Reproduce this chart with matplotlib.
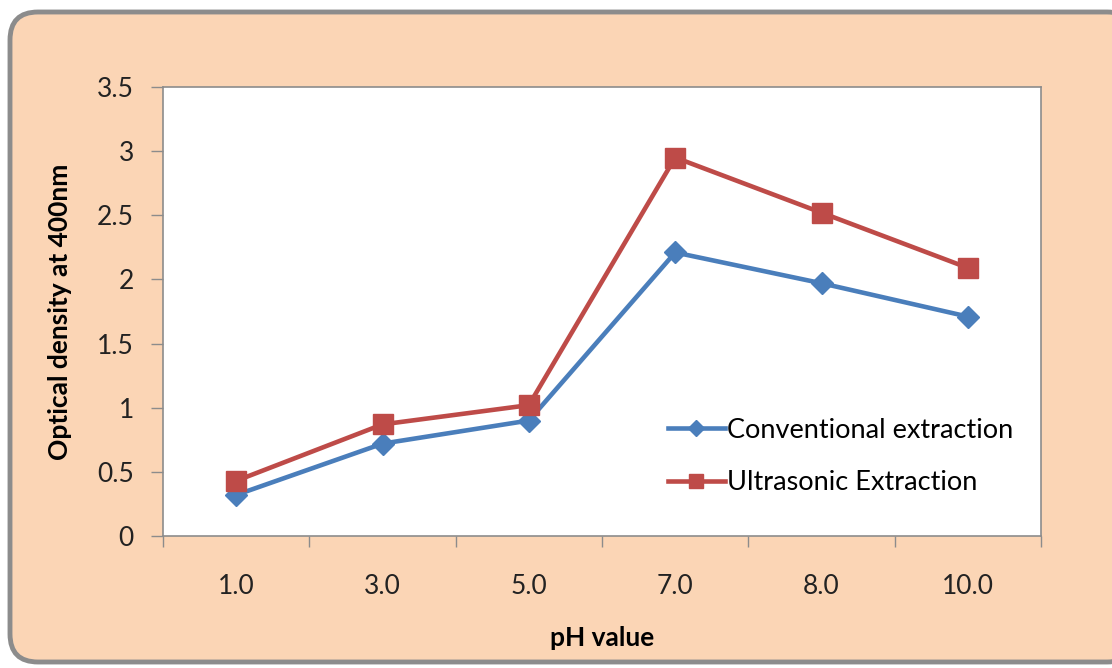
import matplotlib.pyplot as plt
from matplotlib.patches import FancyBboxPatch
from matplotlib.transforms import IdentityTransform

plt.rcParams['font.family'] = ['Lato', 'DejaVu Sans']

# pH categories and optical density readings
ph_labels = ['1.0', '3.0', '5.0', '7.0', '8.0', '10.0']
conventional = [0.32, 0.72, 0.90, 2.21, 1.97, 1.71]
ultrasonic = [0.43, 0.87, 1.02, 2.95, 2.52, 2.09]

fig = plt.figure(figsize=(11.12, 6.68), dpi=100)
fig.patch.set_facecolor('white')

# peach panel behind the chart, in pixels
panel = FancyBboxPatch((10, 6), 1125, 650,
                       boxstyle='round,pad=0,rounding_size=28',
                       facecolor='#FBD5B5', edgecolor='#8C8C8C',
                       linewidth=3.5, transform=IdentityTransform(),
                       zorder=0)
fig.patches.append(panel)

ax = fig.add_axes([0.1466, 0.1976, 0.7896, 0.6722])
ax.set_zorder(2)
ax.set_facecolor('white')

x = list(range(len(ph_labels)))
ax.plot(x, conventional, color='#4A7EBB', linewidth=3.3, marker='D',
        markersize=11, label='Conventional extraction', zorder=3)
ax.plot(x, ultrasonic, color='#BE4B48', linewidth=3.3, marker='s',
        markersize=15, label='Ultrasonic Extraction', zorder=3)

ax.set_xlim(-0.5, len(ph_labels) - 0.5)
ax.set_ylim(0, 3.5)
ax.set_yticks([0, 0.5, 1, 1.5, 2, 2.5, 3, 3.5])
ax.set_yticklabels(['0', '0.5', '1', '1.5', '2', '2.5', '3', '3.5'])

# category labels centred, ticks on the boundaries
ax.set_xticks(x)
ax.set_xticklabels(ph_labels)
ax.set_xticks([i - 0.5 for i in range(len(ph_labels) + 1)], minor=True)
ax.tick_params(axis='x', which='major', length=0, pad=27, labelsize=19,
               labelcolor='#222222')
ax.tick_params(axis='x', which='minor', length=8, width=1, color='#8C8C8C',
               direction='out')
ax.tick_params(axis='y', length=9, width=1, color='#8C8C8C', pad=12,
               labelsize=19, labelcolor='#222222')

for s in ax.spines.values():
    s.set_color('#8C8C8C')
    s.set_linewidth(1.2)

ax.set_ylabel('Optical density at 400nm', fontsize=19, fontweight='bold',
              labelpad=18)
ax.set_xlabel('pH value', fontsize=19, fontweight='bold', labelpad=20)

ax.legend(loc='lower left', bbox_to_anchor=(0.547, 0.037), frameon=False,
          fontsize=19.5, handlelength=2.1, handletextpad=0.1, labelspacing=1.0,
          markerscale=0.7)

fig.savefig('out.png', dpi=100, facecolor='white')
